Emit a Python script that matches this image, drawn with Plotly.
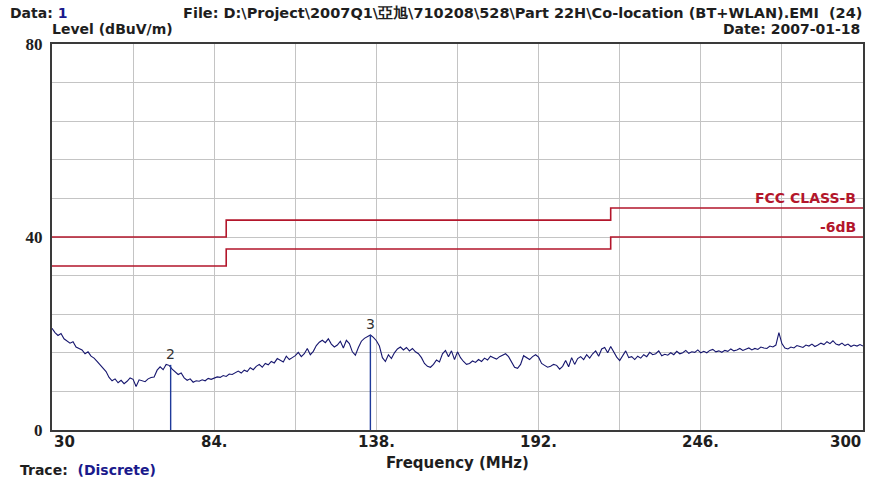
import plotly.graph_objects as go

# ---------------- data ----------------
freq_start = 30
level = [
    21.1, 20.2, 19.6, 20.0, 18.9, 18.4, 18.0, 18.3, 17.2, 16.9,
    16.6, 15.8, 16.2, 15.3, 14.9, 14.2, 13.5, 12.6, 12.1, 10.9,
    10.2, 10.6, 9.8, 10.3, 9.6, 10.1, 10.8, 10.5, 9.0, 10.4,
    10.2, 10.0, 10.6, 10.9, 11.0, 12.4, 13.1, 12.5, 13.6, 13.4,
    12.6, 12.0, 11.5, 11.8, 10.8, 10.3, 10.6, 9.9, 10.2, 10.1,
    10.4, 10.2, 10.7, 10.5, 10.8, 11.0, 10.9, 11.3, 11.1, 11.6,
    11.5, 11.9, 12.2, 11.8, 12.4, 12.1, 12.9, 12.5, 13.2, 13.6,
    13.0, 13.8, 13.5, 14.2, 13.9, 14.8, 14.4, 14.1, 15.3, 14.6,
    15.0, 15.4, 16.1, 15.2, 15.8, 16.9, 15.6, 16.3, 17.5, 18.2,
    18.6, 18.1, 18.9, 17.8, 17.2, 17.6, 18.4, 17.0, 18.6, 17.9,
    16.2, 15.5, 17.1, 18.4, 19.0, 19.4, 19.7, 19.2, 18.5, 17.4,
    15.0, 14.2, 15.6, 14.8, 16.0, 16.8, 17.2, 16.6, 17.1, 16.4,
    16.9, 16.2, 15.8, 15.0, 13.8, 13.2, 13.0, 13.6, 14.5, 14.1,
    15.8, 16.5, 15.2, 16.4, 14.6, 16.2, 15.0, 14.2, 13.6, 13.8,
    14.3, 14.0, 14.6, 14.2, 14.9, 14.5, 15.3, 15.0, 14.7, 15.2,
    15.5, 15.8, 15.2, 14.1, 13.0, 12.8, 13.6, 15.4, 15.0, 14.6,
    15.2, 15.6, 15.1, 13.8, 13.4, 13.0, 13.2, 13.6, 13.4, 12.6,
    13.2, 14.4, 13.1, 15.0, 13.6, 14.8, 15.2, 14.6, 15.6, 14.9,
    15.8, 16.4, 15.3, 16.8, 17.1, 16.0, 17.3, 16.2, 15.1, 14.4,
    15.5, 16.4, 15.0, 15.2, 14.6, 15.3, 14.9, 15.6, 15.2, 16.1,
    15.6, 15.8, 16.4, 15.4, 15.7, 15.5, 16.0, 15.6, 16.3, 15.8,
    16.0, 16.5, 15.9, 16.2, 16.1, 16.6, 16.0, 16.3, 16.0, 16.5,
    16.7, 16.2, 16.4, 16.1, 16.5, 16.3, 16.8, 16.4, 16.6, 16.9,
    16.5, 16.8, 17.0, 16.6, 16.9, 16.7, 17.2, 17.0, 16.9, 17.4,
    17.2, 17.6, 20.2, 17.9, 17.0, 16.8, 17.2, 17.0, 17.5, 17.3,
    17.1, 17.6, 17.4, 17.8, 17.3, 17.6, 18.0, 17.7, 18.3, 17.9,
    18.5, 17.8, 17.6, 18.0, 17.5, 17.8, 17.3, 17.6, 17.4, 17.7,
    17.4,
]
freq = [freq_start + i for i in range(len(level))]

limit_freq = [30, 88, 88, 216, 216, 300]
limit_fcc = [40, 40, 43.5, 43.5, 46, 46]
limit_6db = [34, 34, 37.5, 37.5, 40, 40]

marker_freq = [69.5, 136.0]
marker_level = [13.5, 19.7]
marker_names = ["2", "3"]

x_tick_vals = [30, 84, 138, 192, 246, 300]
x_tick_text = ["30", "84.", "138.", "192.", "246.", "300"]
y_tick_vals = [0, 40, 80]

# ---------------- layout helpers ----------------
L, R, T, B = 52, 863, 44, 430
W, H = 878, 477
def px(p):
    return (p - L) / (R - L)
def py(p):
    return (B - p) / (B - T)

LIM = "#b3162b"
TRACE = "#16166e"
FONT = "DejaVu Sans"
SERIF = "Liberation Serif"
TXT = "#1e1e1e"

fig = go.Figure()

fig.add_trace(go.Scatter(x=limit_freq, y=limit_fcc, mode="lines",
                         line=dict(color=LIM, width=1.6), hoverinfo="skip"))
fig.add_trace(go.Scatter(x=limit_freq, y=limit_6db, mode="lines",
                         line=dict(color=LIM, width=1.6), hoverinfo="skip"))
fig.add_trace(go.Scatter(x=freq, y=level, mode="lines",
                         line=dict(color=TRACE, width=1.1)))
for f, v in zip(marker_freq, marker_level):
    fig.add_trace(go.Scatter(x=[f, f], y=[0, v], mode="lines",
                             line=dict(color="#1f3a9a", width=1.4), hoverinfo="skip"))

ann = []
for f, v, n in zip(marker_freq, marker_level, marker_names):
    ann.append(dict(x=f, y=v, text=n, showarrow=False, yanchor="bottom", yshift=1,
                    font=dict(family=FONT, size=14, color="#333333")))

ann.append(dict(x=px(858), y=46, xref="paper", yref="y", text="<b>FCC CLASS-B</b>",
                showarrow=False, xanchor="right", yanchor="bottom", yshift=0,
                font=dict(family=FONT, size=14, color=LIM)))
ann.append(dict(x=px(858), y=40, xref="paper", yref="y", text="<b>-6dB</b>",
                showarrow=False, xanchor="right", yanchor="bottom", yshift=0,
                font=dict(family=FONT, size=14, color=LIM)))

anchors = ["left", "center", "center", "center", "center", "right"]
for v, t, a in zip(x_tick_vals, x_tick_text, anchors):
    ann.append(dict(x=v, y=py(431), xref="x", yref="paper", text="<b>" + t + "</b>",
                    showarrow=False, xanchor=a, yanchor="top",
                    font=dict(family=FONT, size=15, color=TXT)))

ann += [
    dict(x=px(8), y=py(13), xref="paper", yref="paper",
         text="<b>Data: <span style='color:#1a1a8c'>1</span></b>",
         showarrow=False, xanchor="left", yanchor="middle",
         font=dict(family=FONT, size=14, color=TXT)),
    dict(x=px(181), y=py(13), xref="paper", yref="paper",
         text="<b>File: D:\\Project\\2007Q1\\亞旭\\710208\\528\\Part 22H\\Co-location (BT+WLAN).EMI  (24)</b>",
         showarrow=False, xanchor="left", yanchor="middle",
         font=dict(family=FONT, size=14.5, color=TXT)),
    dict(x=px(862), y=py(29), xref="paper", yref="paper", text="<b>Date: 2007-01-18</b>",
         showarrow=False, xanchor="right", yanchor="middle",
         font=dict(family=FONT, size=14, color=TXT)),
    dict(x=px(50), y=py(29), xref="paper", yref="paper", text="<b>Level (dBuV/m)</b>",
         showarrow=False, xanchor="left", yanchor="middle",
         font=dict(family=FONT, size=14, color=TXT)),
    dict(x=px(457), y=py(463), xref="paper", yref="paper", text="<b>Frequency (MHz)</b>",
         showarrow=False, xanchor="center", yanchor="middle",
         font=dict(family=FONT, size=15, color=TXT)),
    dict(x=px(18), y=py(460), xref="paper", yref="paper",
         text="<b>Trace:  <span style='color:#1a1a8c'>(Discrete)</span></b>",
         showarrow=False, xanchor="left", yanchor="top",
         font=dict(family=FONT, size=14, color=TXT)),
]

fig.update_layout(
    width=W, height=H,
    margin=dict(l=L, r=W - R, t=T, b=H - B, autoexpand=False),
    paper_bgcolor="white", plot_bgcolor="white",
    showlegend=False,
    annotations=ann,
    xaxis=dict(range=[30, 300], tickvals=x_tick_vals, showticklabels=False,
               showgrid=True, gridcolor="#c4c4c4", gridwidth=1,
               minor=dict(tick0=30, dtick=27, showgrid=True, gridcolor="#c4c4c4", gridwidth=1),
               showline=True, linecolor="#3a3a3a", linewidth=2, mirror=True,
               zeroline=False, ticks="", automargin=False),
    yaxis=dict(range=[0, 80], tickvals=y_tick_vals,
               tickfont=dict(family=SERIF, size=17, color=TXT, weight="bold"),
               showgrid=True, gridcolor="#c4c4c4", gridwidth=1,
               minor=dict(tick0=0, dtick=8, showgrid=True, gridcolor="#c4c4c4", gridwidth=1),
               showline=True, linecolor="#3a3a3a", linewidth=2, mirror=True,
               zeroline=False, ticks="", ticklabelstandoff=4, automargin=False),
)

fig.write_html("out.html", config={"displayModeBar": False},
               post_script="document.body.style.margin='0';document.body.style.overflow='hidden';")
